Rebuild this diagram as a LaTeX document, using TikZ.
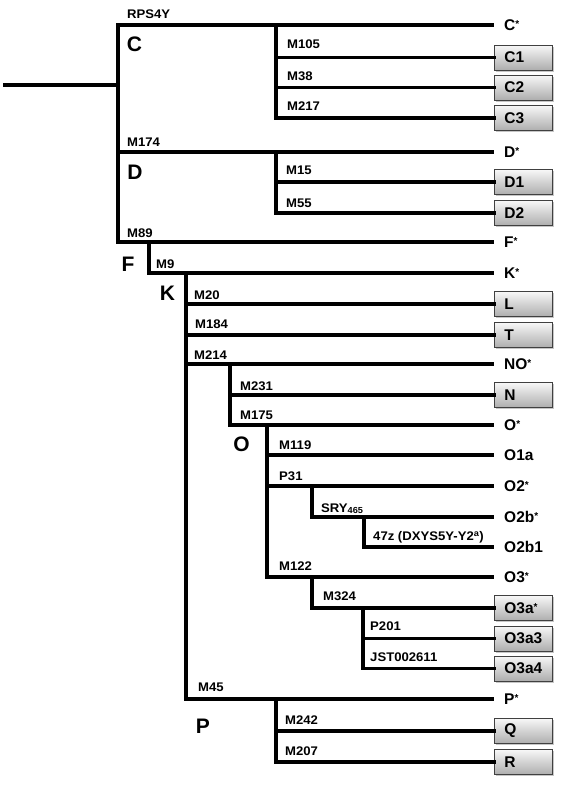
\documentclass[tikz,border=0pt]{standalone}
\usepackage{fontspec}
\setmainfont{Liberation Sans}
\newfontfamily\labfont[FakeStretch=1.05]{Liberation Sans}
\usetikzlibrary{shadows}
\newcommand{\mystar}{\raisebox{3pt}{\fontsize{10}{10}\selectfont *}}
\begin{document}
\begin{tikzpicture}[x=1pt,y=-1pt,
  lin/.style={line width=3.3pt, line cap=rect},
  mlab/.style={anchor=base west, inner sep=0pt, font=\labfont\fontsize{12.5}{12.5}\selectfont\bfseries},
  leaf/.style={anchor=west, inner xsep=12pt, inner ysep=0pt, font=\fontsize{15.5}{15.5}\selectfont\bfseries},
  hgbox/.style={anchor=west, draw=black!75, line width=0.8pt, top color=black!3, bottom color=black!32,
    minimum height=25pt, text width=38pt, inner xsep=10pt, inner ysep=0pt, align=left,
    font=\fontsize{15.5}{15.5}\selectfont\bfseries,
    drop shadow={shadow xshift=1.5pt, shadow yshift=-1.5pt, opacity=0.45}},
  clade/.style={font=\fontsize{21}{21}\selectfont\bfseries, inner sep=0pt}]
\useasboundingbox (0,0) rectangle (561,787);

% tips
\node[leaf] (Cs) at (492,25) {C\mystar};
\node[hgbox] (C1) at (494,57.5) {C1};
\node[hgbox] (C2) at (494,87.5) {C2};
\node[hgbox] (C3) at (494,118) {C3};
\node[leaf] (Ds) at (492,152) {D\mystar};
\node[hgbox] (D1) at (494,182) {D1};
\node[hgbox] (D2) at (494,213) {D2};
\node[leaf] (Fs) at (492,242) {F\mystar};
\node[leaf] (Ks) at (492,273) {K\mystar};
\node[hgbox] (L) at (494,304) {L};
\node[hgbox] (T) at (494,335) {T};
\node[leaf] (NOs) at (492,364) {NO\mystar};
\node[hgbox] (N) at (494,395) {N};
\node[leaf] (Os) at (492,425) {O\mystar};
\node[leaf] (O1a) at (492,455) {O1a};
\node[leaf] (O2s) at (492,486) {O2\mystar};
\node[leaf] (O2bs) at (492,517) {O2b\mystar};
\node[leaf] (O2b1) at (492,547) {O2b1};
\node[leaf] (O3s) at (492,577) {O3\mystar};
\node[hgbox] (O3as) at (494,608) {O3a\mystar};
\node[hgbox] (O3a3) at (494,638.5) {O3a3};
\node[hgbox] (O3a4) at (494,668.5) {O3a4};
\node[leaf] (Ps) at (492,699) {P\mystar};
\node[hgbox] (Q) at (494,731) {Q};
\node[hgbox] (R) at (494,762) {R};

% branch points
\coordinate (r0) at (5,85);
\coordinate (a0) at (118,25);
\coordinate (cC) at (276,25);
\coordinate (cD) at (276,152);
\coordinate (cF) at (149,242);
\coordinate (cK) at (186,273);
\coordinate (cN) at (230,364);
\coordinate (cO) at (267,425);
\coordinate (cO2) at (312,486);
\coordinate (cO2b) at (364,517);
\coordinate (cO3) at (312,577);
\coordinate (cO3a) at (363,608);
\coordinate (cP) at (276,699);

% connectors
\draw[lin] (r0) -- (a0 |- r0);
\draw[lin] (a0) -- (a0 |- Fs.west);
\foreach \t in {Cs,Ds,Fs} \draw[lin] (a0 |- \t.west) -- (\t.west);
\draw[lin] (cC) -- (cC |- C3.west);
\foreach \t in {C1,C2,C3} \draw[lin] (cC |- \t.west) -- (\t.west);
\draw[lin] (cD) -- (cD |- D2.west);
\foreach \t in {D1,D2} \draw[lin] (cD |- \t.west) -- (\t.west);
\draw[lin] (cF) -- (cF |- Ks.west) -- (Ks.west);
\draw[lin] (cK) -- (cK |- Ps.west);
\foreach \t in {L,T,NOs,Ps} \draw[lin] (cK |- \t.west) -- (\t.west);
\draw[lin] (cN) -- (cN |- Os.west);
\foreach \t in {N,Os} \draw[lin] (cN |- \t.west) -- (\t.west);
\draw[lin] (cO) -- (cO |- O3s.west);
\foreach \t in {O1a,O2s,O3s} \draw[lin] (cO |- \t.west) -- (\t.west);
\draw[lin] (cO2) -- (cO2 |- O2bs.west) -- (O2bs.west);
\draw[lin] (cO2b) -- (cO2b |- O2b1.west) -- (O2b1.west);
\draw[lin] (cO3) -- (cO3 |- O3as.west) -- (O3as.west);
\draw[lin] (cO3a) -- (cO3a |- O3a4.west);
\foreach \t in {O3a3,O3a4} \draw[lin] (cO3a |- \t.west) -- (\t.west);
\draw[lin] (cP) -- (cP |- R.west);
\foreach \t in {Q,R} \draw[lin] (cP |- \t.west) -- (\t.west);

% marker labels
\node[mlab] (lRPS) at (127,18.5) {RPS4Y};
\node[mlab] (lM105) at (287,48) {M105};
\node[mlab] (lM38) at (287,80) {M38};
\node[mlab] (lM217) at (287,110) {M217};
\node[mlab] (lM174) at (127,146) {M174};
\node[mlab] (lM15) at (286,174.3) {M15};
\node[mlab] (lM55) at (286,207.3) {M55};
\node[mlab] (lM89) at (127,237.3) {M89};
\node[mlab] (lM9) at (156,268.3) {M9};
\node[mlab] (lM20) at (194,299.3) {M20};
\node[mlab] (lM184) at (195,328.3) {M184};
\node[mlab] (lM214) at (194,359) {M214};
\node[mlab] (lM231) at (240,390) {M231};
\node[mlab] (lM175) at (240,419.3) {M175};
\node[mlab] (lM119) at (279,449.3) {M119};
\node[mlab] (lP31) at (279,480) {P31};
\node[mlab] (lSRY) at (321,512) {SRY\textsubscript{465}};
\node[mlab] (l47z) at (373,540.7) {47z (DXYS5Y-Y2\textsuperscript{a})};
\node[mlab] (lM122) at (279,570) {M122};
\node[mlab] (lM324) at (323,600.7) {M324};
\node[mlab] (lP201) at (370,630.7) {P201};
\node[mlab] (lJST) at (370,661.7) {JST002611};
\node[mlab] (lM45) at (198,691.7) {M45};
\node[mlab] (lM242) at (285,724) {M242};
\node[mlab] (lM207) at (285,755.7) {M207};

% clade letters
\node[clade] (kC) at (134.5,44.5) {C};
\node[clade] (kD) at (135,172.5) {D};
\node[clade] (kF) at (128,264) {F};
\node[clade] (kK) at (167.5,293.5) {K};
\node[clade] (kO) at (241.5,444) {O};
\node[clade] (kP) at (203,726) {P};
\end{tikzpicture}
\end{document}
